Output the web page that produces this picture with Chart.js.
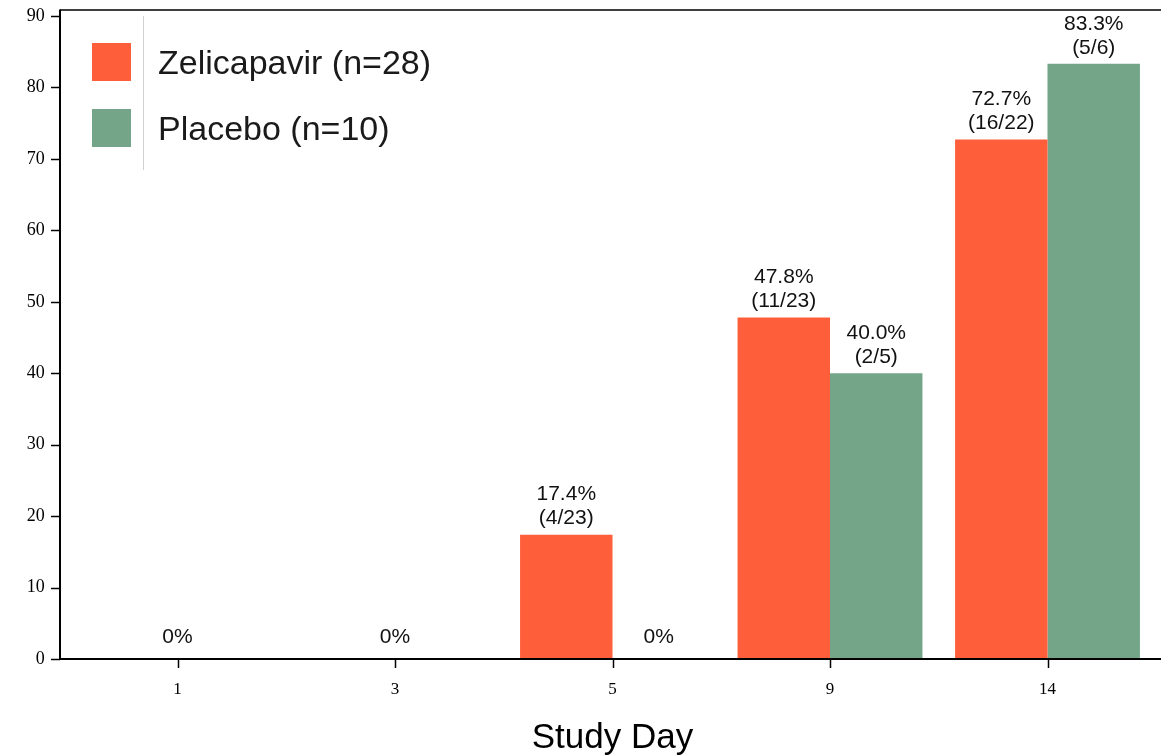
<!DOCTYPE html>
<html>
<head>
<meta charset="utf-8">
<script src="https://cdn.jsdelivr.net/npm/chart.js@4/dist/chart.umd.min.js"></script>
<style>
  body { margin: 0; background: #ffffff; }
  #wrap { width: 1161px; height: 755px; }
</style>
</head>
<body>
<div id="wrap"><canvas id="chart" width="1161" height="755"></canvas></div>
<script>
// ── Data ─────────────────────────────────────
const days = ['1', '3', '5', '9', '14'];
const zelicapavir = [0, 0, 17.4, 47.8, 72.7];
const placebo = [0, 0, 0, 40.0, 83.3];
const zelLabels = ['', '', '17.4%\n(4/23)', '47.8%\n(11/23)', '72.7%\n(16/22)'];
const plaLabels = ['', '', '0%', '40.0%\n(2/5)', '83.3%\n(5/6)'];
const dayLabels = ['0%', '0%', '', '', ''];   // shared label when both arms are 0
const yTicks = [0, 10, 20, 30, 40, 50, 60, 70, 80, 90];

const ORANGE = '#FF5E3A';
const GREEN = '#74A588';
const SANS = '"Liberation Sans", Arial, sans-serif';
const SERIF = '"Liberation Serif", "Times New Roman", serif';

// ── Frame, ticks, legend and value labels ────
const decorations = {
    id: 'decorations',
    afterDraw(chart) {
        const c = chart.ctx;
        const x = chart.scales.x;
        const y = chart.scales.y;
        const axisX = 60;
        const base = y.getPixelForValue(0);
        const W = chart.width;

        c.save();
        c.strokeStyle = '#000';

        // top frame line
        c.lineWidth = 1.5;
        c.beginPath();
        c.moveTo(axisX, 10);
        c.lineTo(W, 10);
        c.stroke();

        // y axis + x axis
        c.lineWidth = 2;
        c.beginPath();
        c.moveTo(axisX, 9.5);
        c.lineTo(axisX, base);
        c.lineTo(W, base);
        c.stroke();

        // y tick marks
        c.lineWidth = 1.5;
        yTicks.forEach(v => {
            const py = Math.round(y.getPixelForValue(v)) + 0.5;
            c.beginPath();
            c.moveTo(51, py);
            c.lineTo(axisX, py);
            c.stroke();
        });

        // x tick marks
        days.forEach((d, i) => {
            const px = Math.round(x.getPixelForValue(i)) + 0.5;
            c.beginPath();
            c.moveTo(px, base);
            c.lineTo(px, base + 9);
            c.stroke();
        });

        // value labels
        c.fillStyle = '#111';
        c.font = '21px ' + SANS;
        c.textAlign = 'center';
        c.textBaseline = 'middle';
        function drawLines(text, px, top) {
            if (!text) return;
            const lines = text.split('\n');
            const off = lines.length === 1 ? 22 : 16;
            lines.forEach((ln, k) => {
                c.fillText(ln, px, top - off - (lines.length - 1 - k) * 24);
            });
        }
        [zelLabels, plaLabels].forEach((labels, di) => {
            const meta = chart.getDatasetMeta(di);
            meta.data.forEach((bar, i) => drawLines(labels[i], bar.x, bar.y));
        });
        dayLabels.forEach((t, i) => drawLines(t, x.getPixelForValue(i), base));

        // legend
        c.textAlign = 'left';
        c.font = '34px ' + SANS;
        chart.data.datasets.forEach((ds, i) => {
            const top = 43 + i * 66;
            c.fillStyle = ds.backgroundColor;
            c.fillRect(92, top, 39, 38);
            c.fillStyle = '#1a1a1a';
            c.fillText(ds.label, 158, top + 22);
        });
        c.strokeStyle = '#d0d0d0';
        c.lineWidth = 1;
        c.beginPath();
        c.moveTo(143.5, 16);
        c.lineTo(143.5, 170);
        c.stroke();

        c.restore();
    }
};

// ── Chart ────────────────────────────────────
new Chart(document.getElementById('chart'), {
    type: 'bar',
    data: {
        labels: days,
        datasets: [
            { label: 'Zelicapavir (n=28)', data: zelicapavir, backgroundColor: ORANGE },
            { label: 'Placebo (n=10)', data: placebo, backgroundColor: GREEN }
        ]
    },
    options: {
        responsive: false,
        animation: false,
        layout: { padding: { top: 16, right: 4.75, left: 0, bottom: 0 } },
        datasets: { bar: { categoryPercentage: 0.85, barPercentage: 1.0 } },
        plugins: {
            legend: { display: false },
            tooltip: { enabled: false }
        },
        scales: {
            x: {
                grid: { display: false },
                border: { display: false },
                ticks: { color: '#000', font: { family: SERIF, size: 17 }, padding: 12 },
                title: {
                    display: true,
                    text: 'Study Day',
                    color: '#000',
                    font: { family: SANS, size: 35, lineHeight: 1.2 },
                    padding: { top: 0, bottom: -4 }
                },
                afterFit(scale) {
                    scale.height = 96;
                    scale.paddingLeft = 0;
                    scale.paddingRight = 0;
                }
            },
            y: {
                min: 0,
                max: 90,
                grid: { display: false },
                border: { display: false },
                ticks: {
                    stepSize: 10,
                    color: '#000',
                    font: { family: SERIF, size: 18 },
                    padding: 16
                },
                afterFit(scale) {
                    scale.width = 68.75;
                    scale.paddingTop = 0;
                    scale.paddingBottom = 0;
                }
            }
        }
    },
    plugins: [decorations]
});
</script>
</body>
</html>
